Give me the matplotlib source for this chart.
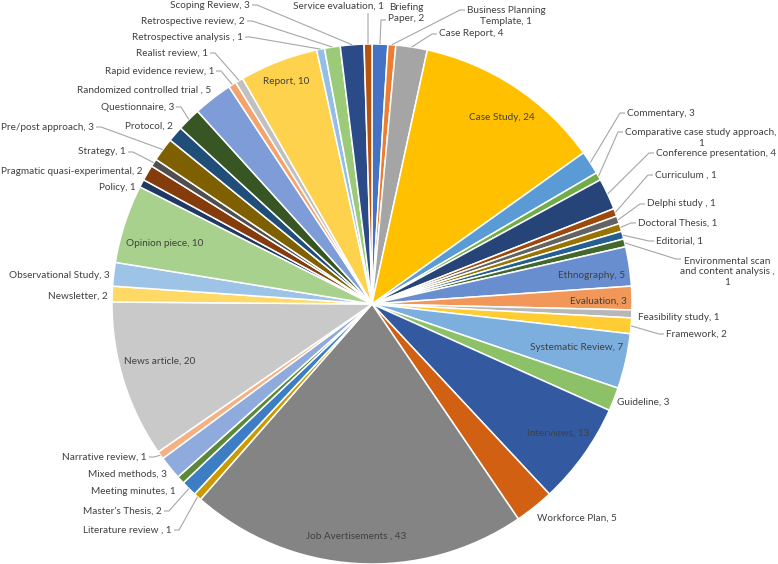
import math
import matplotlib
matplotlib.use("Agg")
import matplotlib.pyplot as plt

# slices in drawing order (clockwise from 12 o'clock), names as in the source sheet
names = [
    "Briefing Paper", "Business Planning Template", "Case Report", "Case Study",
    "Commentary", "Comparative case study approach", "Conference presentation",
    "Curriculum ", "Delphi study ", "Doctoral Thesis", "Editorial",
    "Environmental scan and content analysis ", "Ethnography", "Evaluation",
    "Feasibility study", "Framework", "Systematic Review", "Guideline",
    "Interviews", "Workforce Plan", "Job Avertisements ", "Literature review ",
    "Master's Thesis", "Meeting minutes", "Mixed methods", "Narrative review",
    "News article", "Newsletter", "Observational Study", "Opinion piece",
    "Policy", "Pragmatic quasi-experimental", "Strategy", "Pre/post approach",
    "Protocol", "Questionnaire", "Randomized controlled trial ",
    "Rapid evidence review", "Realist review", "Report",
    "Retrospective analysis ", "Retrospective review", "Scoping Review",
    "Service evaluation",
]
counts = [
    2, 1, 4, 24, 3, 1, 4, 1, 1, 1, 1, 1, 5, 3, 1, 2, 7, 3, 13, 5, 43, 1,
    2, 1, 3, 1, 20, 2, 3, 10, 1, 2, 1, 3, 2, 3, 5, 1, 1, 10, 1, 2, 3, 1,
]
colors = [
    "#4472C4", "#ED7D31", "#A5A5A5", "#FFC000", "#5B9BD5", "#70AD47",
    "#264478", "#9E480E", "#636363", "#997300", "#255E91", "#43682B",
    "#698ED0", "#F1975A", "#B7B7B7", "#FFCD33", "#7CAFDD", "#8CC168",
    "#335AA1", "#D26012", "#848484", "#CC9A00", "#3C7DC4", "#5A8A39",
    "#8FAADC", "#F4B183", "#C9C9C9", "#FFD966", "#9DC3E6", "#A9D18E",
    "#203864", "#843C0C", "#4F4F4F", "#7F6000", "#1F4E79", "#375623",
    "#7E9DD8", "#F3A46E", "#C0C0C0", "#FFD24D", "#94BEE6", "#9BCB79",
    "#2A4B87", "#B8530F",
]

# label layout in pixels (x, y from top-left), alignment, word breaks, leader end
W, H = 778, 564
CX, CY, R = 372, 304, 260
layout = [
    (406, 13, "center", (0,), (386, 20)),
    (506, 16, "center", (1,), (465, 10)),
    (439, 34, "left", (), (437, 34)),
    (502, 117, "center", (), None),
    (627, 113, "left", (), (625, 113)),
    (701, 138, "center", (3,), (623, 132)),
    (656, 153, "left", (), (654, 153)),
    (655, 175, "left", (), (653, 175)),
    (647, 204, "left", (), (645, 204)),
    (638, 223, "left", (), (636, 223)),
    (656, 241, "left", (), (654, 241)),
    (727, 272, "center", (1, 5), (681, 259)),
    (592, 276, "center", (), None),
    (598, 301, "center", (), None),
    (638, 318, "left", (), None),
    (666, 334, "left", (), (664, 334)),
    (577, 347, "center", (), None),
    (617, 402, "left", (), None),
    (558, 433, "center", (), None),
    (537, 518, "left", (), None),
    (356, 536, "center", (), None),
    (172, 530, "right", (), (174, 530)),
    (162, 511, "right", (), (164, 511)),
    (176, 491, "right", (), None),
    (167, 474, "right", (), None),
    (147, 457, "right", (), (149, 457)),
    (160, 361, "center", (), None),
    (108, 296, "right", (), None),
    (110, 276, "right", (), None),
    (165, 244, "center", (), None),
    (136, 187, "right", (), None),
    (143, 171, "right", (), None),
    (126, 152, "right", (), (128, 152)),
    (94, 127, "right", (), (96, 127)),
    (173, 126, "right", (), None),
    (174, 107, "right", (), (176, 107)),
    (211, 90, "right", (), None),
    (214, 71, "right", (), (216, 71)),
    (208, 53, "right", (), (210, 53)),
    (286, 82, "center", (), None),
    (243, 37, "right", (), (245, 37)),
    (245, 21, "right", (), (247, 21)),
    (250, 5, "right", (), (252, 5)),
    (384, 6, "right", (), (368, 13)),
]


def make_label(name, value, breaks):
    words = f"{name}, {value}".split(" ")
    out = ""
    for i, w in enumerate(words):
        out += w
        if i < len(words) - 1:
            out += "\n" if i in breaks else " "
    return out


def main():
    fig = plt.figure(figsize=(W / 100, H / 100), dpi=100)
    ax = fig.add_axes([0, 0, 1, 1])
    ax.pie(counts, colors=colors, startangle=90, counterclock=False,
           center=(CX, H - CY), radius=R,
           wedgeprops=dict(edgecolor="white", linewidth=1.1))
    ax.set_xlim(0, W)
    ax.set_ylim(0, H)
    ax.set_aspect("equal")
    ax.axis("off")

    total = sum(counts)
    before = 0
    for name, value, spec in zip(names, counts, layout):
        x, y, ha, breaks, leader = spec
        mid = 90 - 360 * (before + value / 2) / total
        before += value
        ax.text(x, H - y, make_label(name, value, breaks), ha=ha, va="center",
                multialignment="center", fontsize=7.2, color="#404040",
                family=["Lato", "DejaVu Sans"], linespacing=1.2)
        if leader is None:
            continue
        sx = CX + R * math.cos(math.radians(mid))
        sy = (H - CY) + R * math.sin(math.radians(mid))
        ex, ey = leader[0], H - leader[1]
        dx = sx - ex
        stub = 0 if abs(dx) < 3 else math.copysign(min(5, abs(dx)), dx)
        ax.plot([ex, ex + stub, sx], [ey, ey, sy], color="#A6A6A6", lw=0.8,
                solid_capstyle="butt")

    fig.savefig("out.png", dpi=100)


if __name__ == "__main__":
    main()
